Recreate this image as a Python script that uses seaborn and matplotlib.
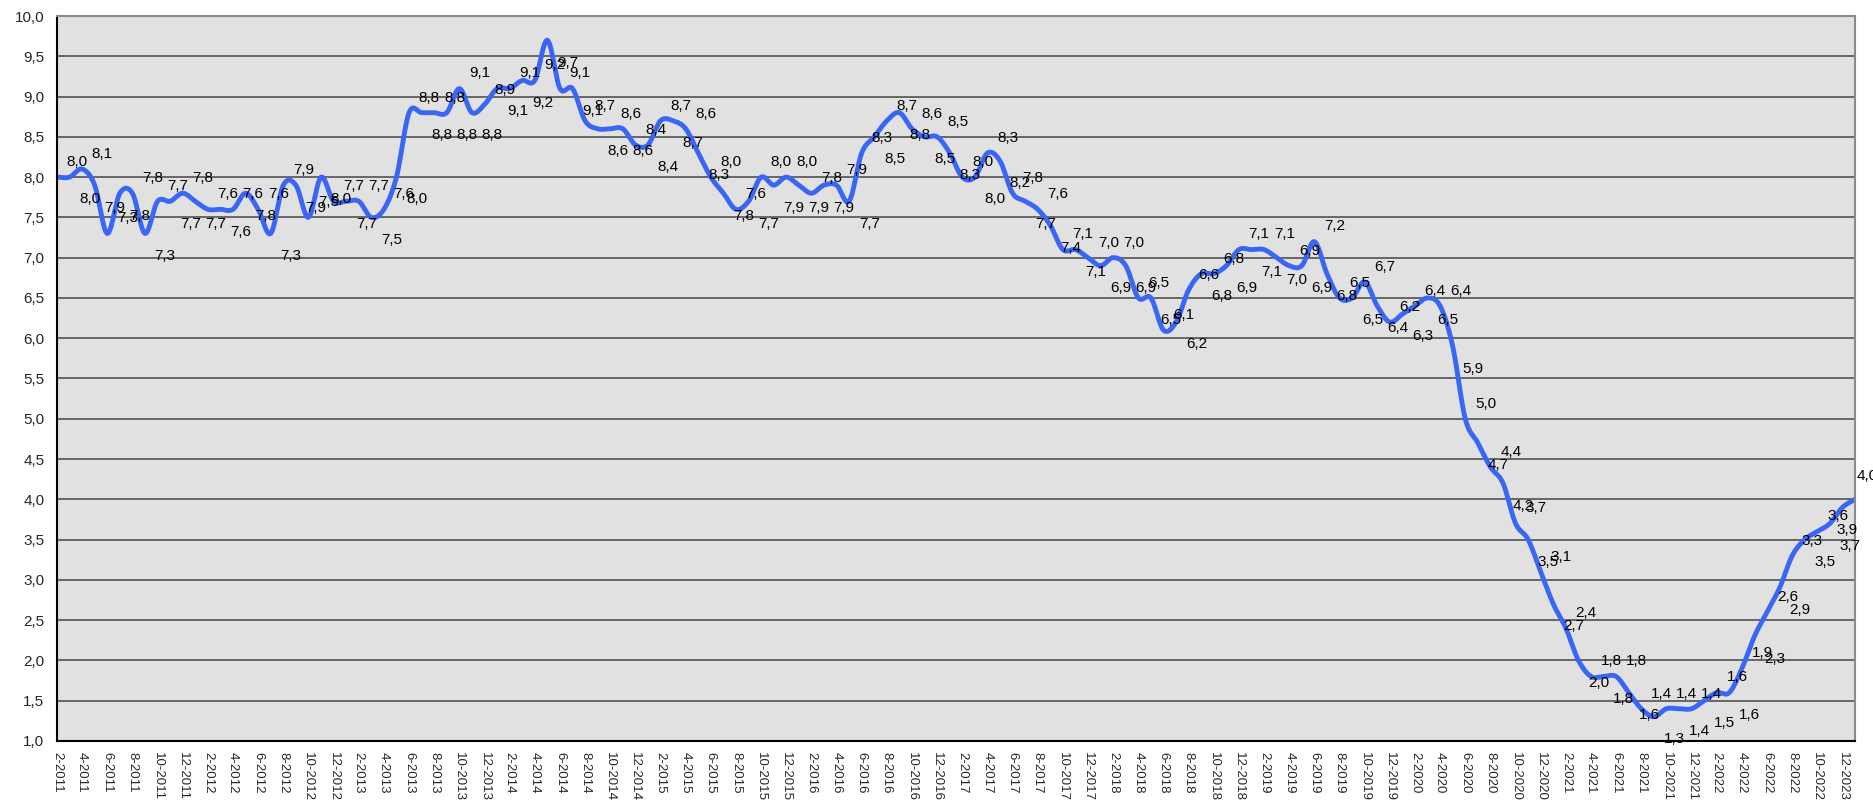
import numpy as np
import pandas as pd
import matplotlib.pyplot as plt
import seaborn as sns
from matplotlib.ticker import FuncFormatter, MultipleLocator

# monthly values (first point = "2-2011")
rate = [
    8.0, 8.0, 8.1, 7.9, 7.3, 7.8, 7.8, 7.3, 7.7, 7.7, 7.8, 7.7,
    7.6, 7.6, 7.6, 7.8, 7.6, 7.3, 7.9, 7.9, 7.5, 8.0, 7.7, 7.7,
    7.7, 7.5, 7.6, 8.0, 8.8, 8.8, 8.8, 8.8, 9.1, 8.8, 8.9, 9.1,
    9.1, 9.2, 9.2, 9.7, 9.1, 9.1, 8.7, 8.6, 8.6, 8.6, 8.4, 8.4,
    8.7, 8.7, 8.6, 8.3, 8.0, 7.8, 7.6, 7.7, 8.0, 7.9, 8.0, 7.9,
    7.8, 7.9, 7.9, 7.7, 8.3, 8.5, 8.7, 8.8, 8.6, 8.5, 8.5, 8.3,
    8.0, 8.0, 8.3, 8.2, 7.8, 7.7, 7.6, 7.4, 7.1, 7.1, 7.0, 6.9,
    7.0, 6.9, 6.5, 6.5, 6.1, 6.2, 6.6, 6.8, 6.8, 6.9, 7.1, 7.1,
    7.1, 7.0, 6.9, 6.9, 7.2, 6.8, 6.5, 6.5, 6.7, 6.4, 6.2, 6.3,
    6.4, 6.5, 6.4, 5.9, 5.0, 4.7, 4.4, 4.2, 3.7, 3.5, 3.1, 2.7,
    2.4, 2.0, 1.8, 1.8, 1.8, 1.6, 1.4, 1.3, 1.4, 1.4, 1.4, 1.5,
    1.6, 1.6, 1.9, 2.3, 2.6, 2.9, 3.3, 3.5, 3.6, 3.7, 3.9, 4.0,
]

# x labels every second month, as printed on the chart
tick_labels = [f"{m}-{y}" for y in range(2011, 2023) for m in range(2, 13, 2)]
tick_labels[-1] = "12-2023"


def smooth_line(y, steps=10):
    # Excel-style smoothed line (Catmull-Rom through the points)
    y = np.asarray(y, dtype=float)
    n = len(y)
    m = np.empty(n)
    m[1:-1] = (y[2:] - y[:-2]) / 2
    m[0] = y[1] - y[0]
    m[-1] = y[-1] - y[-2]
    xs, ys = [], []
    t = np.linspace(0, 1, steps, endpoint=False)
    h00 = 2 * t**3 - 3 * t**2 + 1
    h10 = t**3 - 2 * t**2 + t
    h01 = -2 * t**3 + 3 * t**2
    h11 = t**3 - t**2
    for i in range(n - 1):
        xs.extend(i + t)
        ys.extend(h00 * y[i] + h10 * m[i] + h01 * y[i + 1] + h11 * m[i + 1])
    xs.append(n - 1)
    ys.append(y[-1])
    return np.array(xs), np.array(ys)


sns.set_theme(style="white")
plt.rcParams['font.family'] = ['Liberation Sans', 'DejaVu Sans']

fig = plt.figure(figsize=(18.74, 8.01), dpi=100)
ax = fig.add_axes([0.0304, 0.075, 0.9595, 0.905])
ax.set_facecolor('#e1e1e1')

xs, ys = smooth_line(rate)
df = pd.DataFrame({"x": xs, "y": ys})
sns.lineplot(data=df, x="x", y="y", ax=ax, color='#3a66f5', linewidth=3.5,
             sort=False, estimator=None)

# value labels, alternating above / below the line
last = len(rate) - 1
for i, v in enumerate(rate):
    if i == last:
        off = (1, 14)
    elif i == last - 1:
        off = (-4, -19)
    elif i % 2 == 0:
        off = (7, 8)
    else:
        off = (7, -19)
    ax.annotate(f"{v:.1f}".replace('.', ','), (i, v), xytext=off,
                textcoords='offset points', fontsize=11, color='black',
                annotation_clip=False)

ax.set_xlim(0, last)
ax.set_ylim(1, 10)
ax.yaxis.set_major_locator(MultipleLocator(0.5))
ax.yaxis.set_major_formatter(FuncFormatter(lambda v, _: f"{v:.1f}".replace('.', ',')))
ax.set_xticks(range(0, len(rate), 2))
ax.set_xticklabels(tick_labels, rotation=-90, fontsize=9.5)
ax.set_xticks(range(len(rate)), minor=True)
ax.tick_params(axis='x', which='both', direction='out', length=5, color='black', pad=3)
ax.tick_params(axis='y', direction='out', length=5, color='black', labelsize=11, pad=4)

ax.yaxis.grid(True, color='#454545', linewidth=1.1)
ax.set_axisbelow(True)
ax.set_xlabel("")
ax.set_ylabel("")

for side in ['left', 'bottom']:
    ax.spines[side].set_color('black')
    ax.spines[side].set_linewidth(1.5)
for side in ['top', 'right']:
    ax.spines[side].set_color('#8a8a8a')
    ax.spines[side].set_linewidth(1.5)

fig.savefig("out.png", dpi=100)
